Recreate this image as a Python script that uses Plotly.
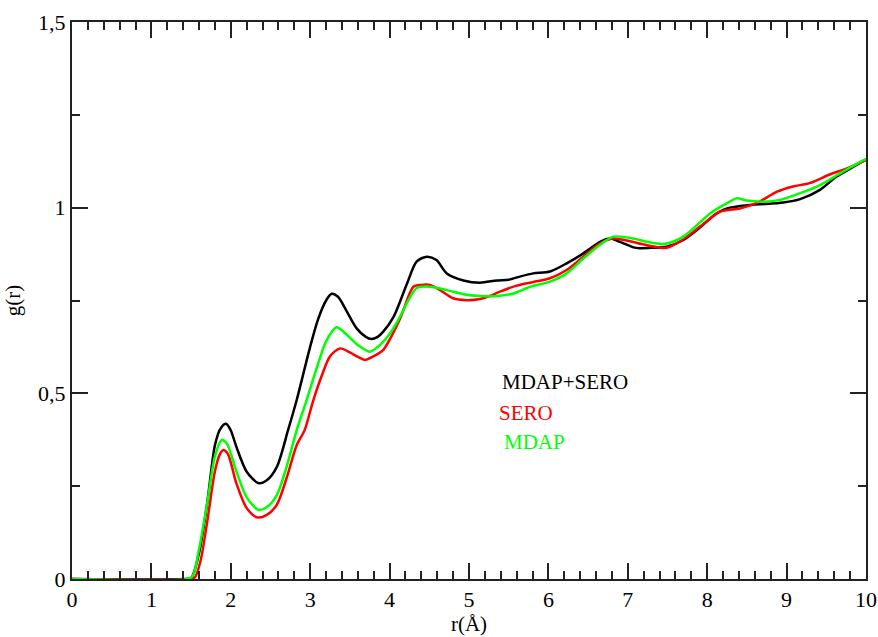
import plotly.graph_objects as go

# MDAP+SERO (black)
r_both = [0, 1.40, 1.50, 1.60, 1.70, 1.80, 1.87, 1.94, 2.00, 2.07, 2.20, 2.35, 2.45, 2.58, 2.72,
          2.83, 3.00, 3.10, 3.20, 3.27, 3.35, 3.45, 3.585, 3.70, 3.77, 3.85, 3.92, 4.05, 4.22,
          4.34, 4.47, 4.59, 4.72, 4.93, 5.14, 5.35, 5.50, 5.65, 5.81, 6.02, 6.23, 6.44, 6.65,
          6.78, 6.90, 7.07, 7.15, 7.30, 7.49, 7.70, 7.90, 8.12, 8.25, 8.54, 8.96, 9.17, 9.42,
          9.63, 9.80, 10.0]
g_both = [0, 0, 0.003, 0.07, 0.20, 0.36, 0.405, 0.418, 0.40, 0.356, 0.289, 0.258, 0.265, 0.302, 0.40,
          0.482, 0.626, 0.70, 0.75, 0.768, 0.76, 0.725, 0.675, 0.652, 0.646, 0.652, 0.666, 0.706, 0.796,
          0.855, 0.868, 0.859, 0.823, 0.804, 0.798, 0.804, 0.806, 0.815, 0.823, 0.828, 0.850, 0.877, 0.908,
          0.917, 0.908, 0.893, 0.891, 0.892, 0.895, 0.913, 0.945, 0.985, 0.998, 1.007, 1.014, 1.023, 1.048,
          1.084, 1.105, 1.13]

# SERO (red)
r_sero = [0, 1.50, 1.55, 1.62, 1.70, 1.80, 1.86, 1.90, 1.96, 2.07, 2.20, 2.33, 2.45, 2.58, 2.70,
          2.83, 2.93, 3.04, 3.15, 3.25, 3.375, 3.50, 3.60, 3.69, 3.80, 3.92, 4.13, 4.30, 4.40,
          4.51, 4.62, 4.80, 4.97, 5.14, 5.26, 5.39, 5.60, 5.81, 6.02, 6.23, 6.44, 6.65, 6.82,
          7.00, 7.24, 7.49, 7.70, 7.91, 8.16, 8.41, 8.62, 8.88, 9.08, 9.29, 9.55, 9.76, 10.0]
g_sero = [0, 0, 0.005, 0.05, 0.15, 0.29, 0.335, 0.347, 0.338, 0.258, 0.191, 0.166, 0.172, 0.20, 0.27,
          0.36, 0.401, 0.482, 0.55, 0.60, 0.621, 0.61, 0.598, 0.590, 0.60, 0.617, 0.700, 0.787, 0.792,
          0.792, 0.780, 0.756, 0.751, 0.754, 0.762, 0.774, 0.790, 0.800, 0.810, 0.832, 0.868, 0.904, 0.917,
          0.911, 0.899, 0.892, 0.915, 0.949, 0.989, 0.998, 1.012, 1.043, 1.057, 1.066, 1.090, 1.106, 1.128]

# MDAP (green)
r_mdap = [0, 1.45, 1.52, 1.60, 1.70, 1.80, 1.885, 1.95, 2.07, 2.20, 2.35, 2.45, 2.58, 2.70, 2.83,
          2.955, 3.10, 3.20, 3.33, 3.45, 3.60, 3.75, 3.85, 4.00, 4.11, 4.34, 4.51, 4.72, 4.93,
          5.14, 5.35, 5.56, 5.77, 6.02, 6.23, 6.44, 6.65, 6.82, 7.07, 7.24, 7.45, 7.70, 8.04,
          8.25, 8.37, 8.50, 8.71, 8.92, 9.17, 9.42, 9.68, 9.97, 10.0]
g_mdap = [0, 0, 0.008, 0.08, 0.20, 0.33, 0.374, 0.365, 0.29, 0.22, 0.186, 0.193, 0.226, 0.30, 0.401,
          0.482, 0.58, 0.64, 0.678, 0.66, 0.63, 0.612, 0.625, 0.66, 0.698, 0.783, 0.787, 0.778, 0.767,
          0.762, 0.762, 0.769, 0.787, 0.801, 0.823, 0.863, 0.900, 0.922, 0.917, 0.908, 0.902, 0.922, 0.985,
          1.012, 1.025, 1.019, 1.016, 1.021, 1.039, 1.061, 1.093, 1.128, 1.13]

series_names = ["MDAP+SERO", "SERO", "MDAP"]
series_colors = ["#000000", "#ff0000", "#00ff00"]
label_pos = [(5.39, 0.531), (5.35, 0.447), (5.42, 0.370)]

x_tickvals = [0, 1, 2, 3, 4, 5, 6, 7, 8, 9, 10]
x_ticktext = ["0", "1", "2", "3", "4", "5", "6", "7", "8", "9", "10"]
y_tickvals = [0, 0.5, 1, 1.5]
y_ticktext = ["0", "0,5", "1", "1,5"]

SERIF = "Liberation Serif"

fig = go.Figure()
data = [(r_both, g_both), (r_sero, g_sero), (r_mdap, g_mdap)]
for (xs, ys), name, col in zip(data, series_names, series_colors):
    fig.add_trace(go.Scatter(x=xs, y=ys, mode="lines", name=name,
                             line=dict(color=col, width=2.5, shape="spline", smoothing=0.8),
                             showlegend=False))

for (lx, ly), name, col in zip(label_pos, series_names, series_colors):
    fig.add_annotation(x=lx, y=ly, text=name, showarrow=False, xanchor="left", yanchor="middle",
                       font=dict(family=SERIF, size=21, color=col))

axis_common = dict(showline=True, linecolor="#222", linewidth=2, mirror="ticks",
                   ticks="inside", ticklen=16, tickwidth=2, tickcolor="#222",
                   showgrid=False, zeroline=False, automargin=False,
                   tickfont=dict(family=SERIF, size=22, color="#000"))

fig.update_xaxes(range=[0, 10], tickvals=x_tickvals, ticktext=x_ticktext,
                 minor=dict(dtick=0.2, ticks="inside", ticklen=8, tickwidth=2, tickcolor="#222", showgrid=False),
                 title=dict(text="r(Å)", font=dict(family=SERIF, size=21, color="#000"), standoff=2),
                 **axis_common)
fig.update_yaxes(range=[0, 1.5], tickvals=y_tickvals, ticktext=y_ticktext,
                 minor=dict(dtick=0.25, ticks="inside", ticklen=8, tickwidth=2, tickcolor="#222", showgrid=False),
                 title=dict(text="g(r)", font=dict(family=SERIF, size=21, color="#000"), standoff=12),
                 **axis_common)

fig.update_layout(width=878, height=637, margin=dict(l=72, r=12, t=22, b=58),
                  font=dict(family=SERIF),
                  plot_bgcolor="white", paper_bgcolor="white")

fig.write_html("out.html")
